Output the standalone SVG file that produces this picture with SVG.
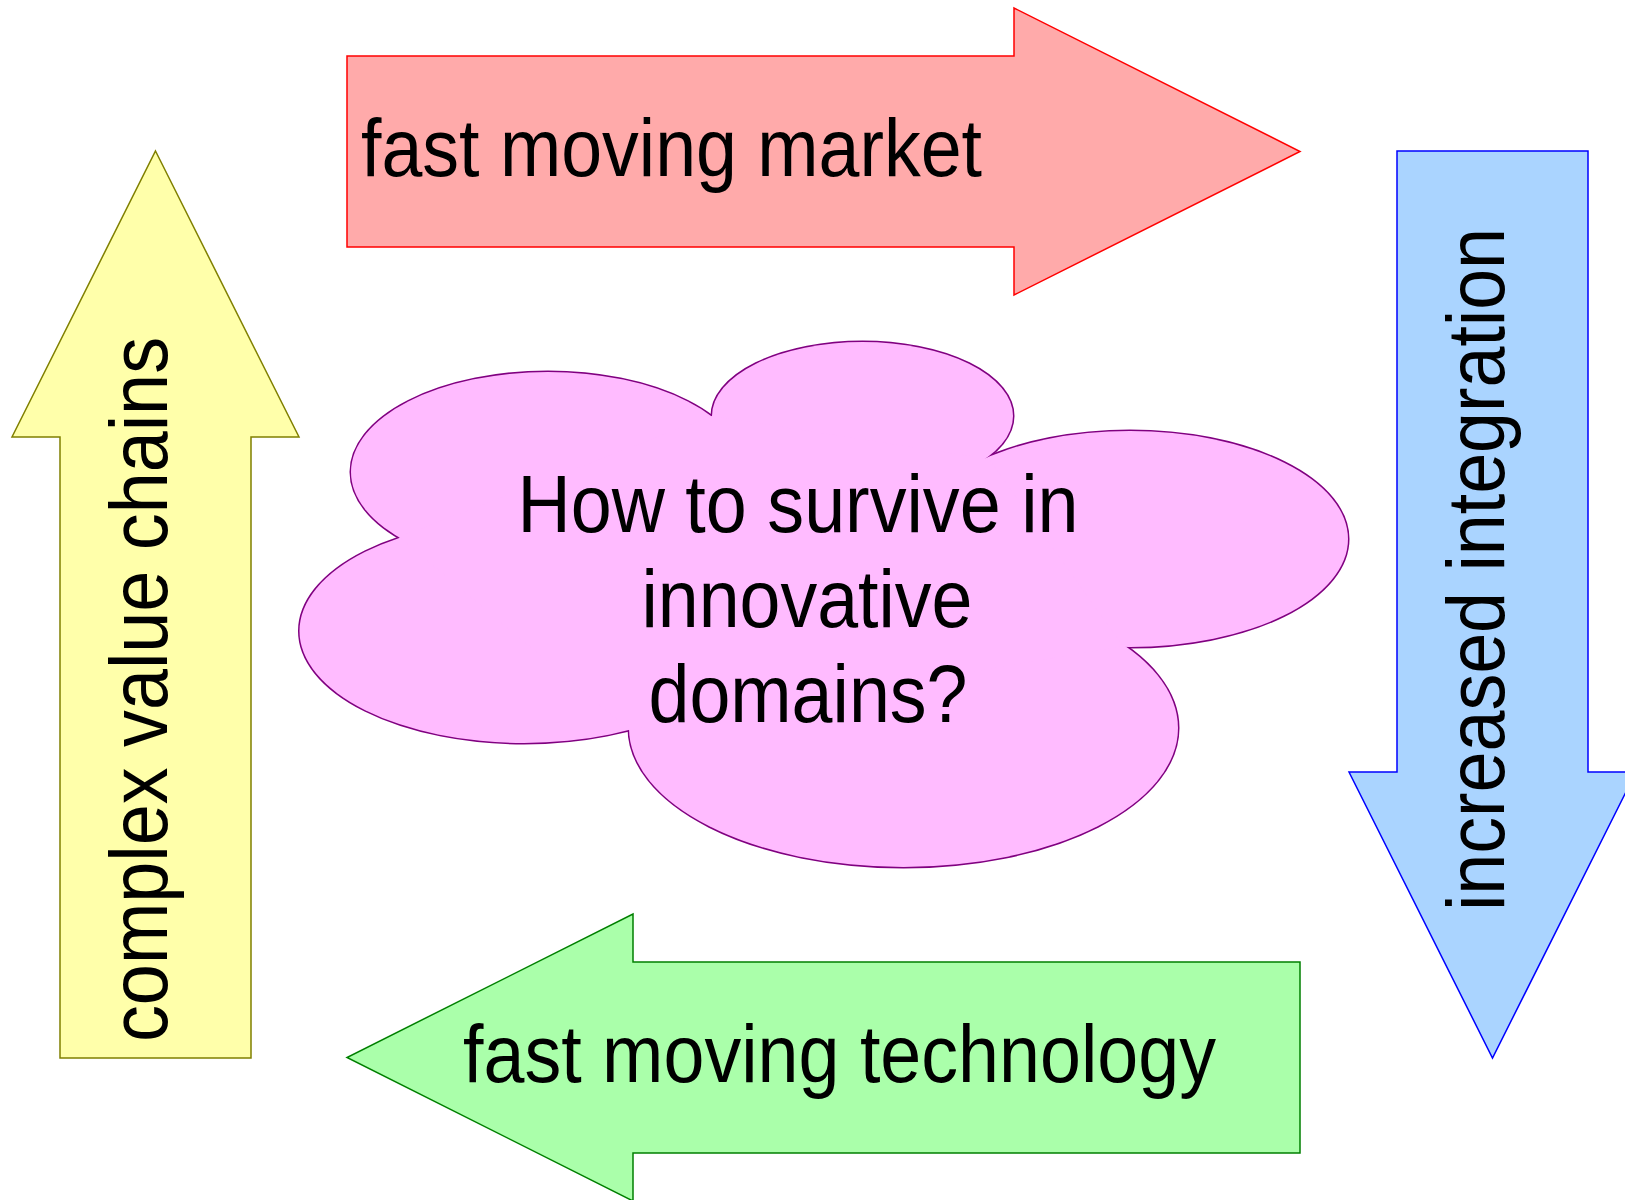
<svg xmlns="http://www.w3.org/2000/svg" width="1625" height="1200" viewBox="0 0 1625 1200">
<style>
.lbl{font-family:"Liberation Sans",Arial,sans-serif;font-size:82px;fill:#000}
.arr{stroke-width:1.5;stroke-linejoin:miter}
.cl{fill:#ffbbff}
.clo{fill:#ffbbff;stroke:#800080;stroke-width:3}
</style>
<defs>
<g id="cloudParts">
<ellipse cx="862.5" cy="416" rx="150.5" ry="74"/>
<ellipse cx="1130" cy="539" rx="218" ry="108"/>
<ellipse cx="903.5" cy="728" rx="274.5" ry="139"/>
<ellipse cx="524" cy="631" rx="224.5" ry="112"/>
<ellipse cx="548" cy="472" rx="197" ry="100"/>
</g>
</defs>
<rect width="1625" height="1200" fill="#fff"/>
<g id="market">
<path class="arr" d="M347,56 H1014 V8 L1300,151.5 L1014,295 V247 H347 Z" fill="#ffaaaa" stroke="#ff0000"/>
<text class="lbl" x="361" y="176" textLength="621" lengthAdjust="spacingAndGlyphs">fast moving market</text>
</g>
<g id="integration">
<path class="arr" d="M1397,151 H1588 V772 H1636 L1492.5,1058 L1349,772 H1397 Z" fill="#aad4ff" stroke="#0000ff"/>
<text class="lbl" transform="translate(1504,911) rotate(-90)" x="0" y="0" textLength="683" lengthAdjust="spacingAndGlyphs">increased integration</text>
</g>
<g id="technology">
<path class="arr" d="M1300,962 V1153 H633 V1201 L347,1057.5 L633,914 V962 Z" fill="#aaffaa" stroke="#008000"/>
<text class="lbl" x="463" y="1082" textLength="753" lengthAdjust="spacingAndGlyphs">fast moving technology</text>
</g>
<g id="valuechains">
<path class="arr" d="M155.5,151 L299,437 H251 V1058 H60 V437 H12 Z" fill="#ffffaa" stroke="#808000"/>
<text class="lbl" transform="translate(167,1042) rotate(-90)" x="0" y="0" textLength="705" lengthAdjust="spacingAndGlyphs">complex value chains</text>
</g>
<g id="question">
<use href="#cloudParts" class="clo"/>
<use href="#cloudParts" class="cl"/>
<polygon class="cl" points="712,416 989,459 1123,646 629.5,730 399,537"/>
<text class="lbl" x="798" y="532" text-anchor="middle" textLength="561" lengthAdjust="spacingAndGlyphs">How to survive in</text>
<text class="lbl" x="807" y="627" text-anchor="middle" textLength="331" lengthAdjust="spacingAndGlyphs">innovative</text>
<text class="lbl" x="808" y="722" text-anchor="middle" textLength="319" lengthAdjust="spacingAndGlyphs">domains?</text>
</g>
<g id="connectors"></g>
</svg>
